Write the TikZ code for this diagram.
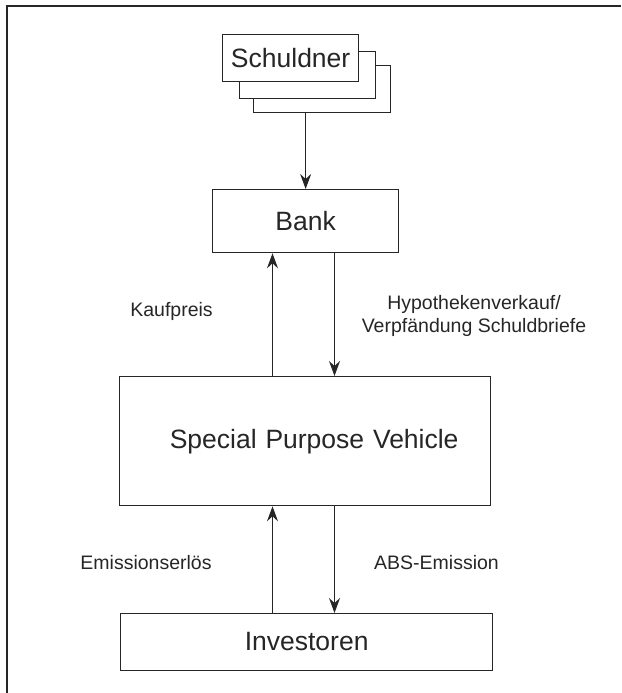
\documentclass[tikz,border=0pt]{standalone}
\usepackage{fontspec}
\setmainfont{Liberation Sans}
\usetikzlibrary{arrows.meta,calc}
\definecolor{ink}{HTML}{262626}
\tikzset{
  box/.style={draw=ink, line width=1.3pt, fill=white, inner sep=0pt, anchor=north west, text=ink, font=\fontsize{26.5}{30}\selectfont},
  lbl/.style={text=ink, font=\fontsize{19.5}{23}\selectfont, align=center, inner sep=0pt},
  conn/.style={draw=ink, line width=1.3pt, -{Stealth[length=15pt,width=11pt,inset=5pt]}},
  frame/.style={draw=ink, line width=1.4pt}
}
\begin{document}
\begin{tikzpicture}[x=1pt,y=-1pt]
\useasboundingbox (0,0) rectangle (621,693);
\draw[frame] (621,6) -- (7,6) -- (7,693);
% Schuldner stack
\node[box, minimum width=137pt, minimum height=47pt] (s3) at (253,65) {};
\node[box, minimum width=136pt, minimum height=47pt] (s2) at (238.5,51) {};
\node[box, minimum width=136pt, minimum height=47pt] (s1) at (222,34) {Schuldner};
% Bank
\node[box, minimum width=186pt, minimum height=63pt] (bank) at (212,189) {Bank};
% SPV
\node[box, minimum width=371pt, minimum height=129pt, text width=371pt, align=center] (spv) at (119,376) {\hspace*{18pt}Special Purpose Vehicle};
% Investoren
\node[box, minimum width=372pt, minimum height=57pt] (inv) at (120,613) {\raisebox{2pt}{Investoren}};
% connector columns
\coordinate (cL) at (272.5,0);
\coordinate (cR) at (334.5,0);
\draw[conn] (s3.south -| bank.north) -- (bank.north);
\draw[conn] (cL |- spv.north) -- (cL |- bank.south);
\draw[conn] (cR |- bank.south) -- (cR |- spv.north);
\draw[conn] (cL |- inv.north) -- (cL |- spv.south);
\draw[conn] (cR |- spv.south) -- (cR |- inv.north);
% labels
\node[lbl] (kauf) at (171.5,311) {Kaufpreis};
\node[lbl] (hyp) at (474,315.5) {Hypothekenverkauf/\\Verpfändung Schuldbriefe};
\node[lbl] (emi) at (146,563) {Emissionserlös};
\node[lbl] (abs) at (436.5,563) {ABS-Emission};
\end{tikzpicture}
\end{document}
